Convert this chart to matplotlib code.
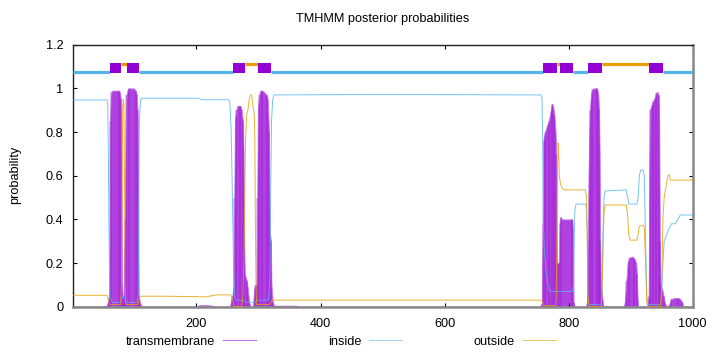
import matplotlib
matplotlib.use('Agg')
import matplotlib.pyplot as plt
from matplotlib.lines import Line2D

plt.rcParams['font.family'] = ['Liberation Sans', 'DejaVu Sans']
plt.rcParams['font.size'] = 9.2

title = "TMHMM posterior probabilities"
ylabel = "probability"
series_labels = ["transmembrane", "inside", "outside"]
xticks = [200, 400, 600, 800, 1000]
yticks = [0, 0.2, 0.4, 0.6, 0.8, 1, 1.2]
ytick_labels = ["0", "0.2", "0.4", "0.6", "0.8", "1", "1.2"]
seq_length = 1000

# transmembrane posterior (impulses)
tm_pos = [1, 50, 55, 57, 59, 60, 61, 62, 63, 65, 75, 77, 78, 79, 80, 81, 83, 84, 85, 86, 87, 89, 91, 99,
          102, 104, 105, 106, 107, 109, 112, 200, 205, 215, 225, 230, 254, 256, 258, 260, 261, 262, 264,
          266, 271, 273, 275, 276, 277, 278, 281, 283, 285, 287, 291, 293, 295, 297, 298, 299, 301, 303,
          306, 310, 313, 315, 317, 318, 320, 321, 323, 325, 360, 365, 754, 757, 758, 759, 762, 765, 768,
          771, 773, 775, 777, 779, 780, 781, 784, 785, 787, 790, 806, 807, 808, 810, 828, 830, 831, 832,
          834, 836, 838, 840, 846, 848, 849, 850, 851, 852, 854, 856, 889, 891, 893, 895, 898, 903, 906,
          909, 910, 911, 912, 927, 929, 930, 931, 933, 936, 939, 941, 943, 945, 946, 947, 948, 949, 951,
          953, 955, 958, 962, 965, 970, 977, 980, 983, 985, 1000]
tm_val = [0, 0, 0.005, 0.02, 0.04, 0.1, 0.85, 0.96, 0.985, 0.99, 0.99, 0.98, 0.95, 0.7, 0.1, 0.05, 0.05,
          0.28, 0.4, 0.85, 0.97, 0.995, 1.0, 1.0, 0.99, 0.97, 0.9, 0.5, 0.05, 0.02, 0.0, 0.0, 0.006, 0.008,
          0.005, 0.0, 0.0, 0.03, 0.05, 0.1, 0.5, 0.85, 0.9, 0.92, 0.92, 0.9, 0.85, 0.7, 0.3, 0.15, 0.12,
          0.08, 0.02, 0.0, 0.0, 0.08, 0.1, 0.1, 0.5, 0.9, 0.97, 0.99, 0.99, 0.98, 0.97, 0.95, 0.8, 0.35,
          0.3, 0.1, 0.02, 0.005, 0.005, 0.0, 0.0, 0.02, 0.38, 0.76, 0.8, 0.83, 0.85, 0.9, 0.93, 0.92, 0.88,
          0.8, 0.7, 0.2, 0.2, 0.38, 0.41, 0.4, 0.4, 0.35, 0.02, 0.0, 0.0, 0.03, 0.3, 0.6, 0.9, 0.97, 0.995,
          1.0, 1.0, 0.97, 0.9, 0.7, 0.3, 0.1, 0.05, 0.0, 0.0, 0.03, 0.12, 0.2, 0.225, 0.23, 0.22, 0.2, 0.15,
          0.05, 0.0, 0.0, 0.05, 0.6, 0.9, 0.92, 0.94, 0.96, 0.98, 0.985, 0.97, 0.85, 0.3, 0.12, 0.09, 0.08,
          0.05, 0.02, 0.0, 0.01, 0.035, 0.04, 0.04, 0.035, 0.02, 0.0, 0.0]

# inside posterior
inside_pos = [1, 56, 57, 58, 59, 60, 61, 64, 78, 80, 82, 84, 86, 104, 106, 107, 108, 110, 112, 204, 208,
              252, 254, 256, 258, 260, 262, 264, 276, 280, 296, 298, 316, 318, 319, 320, 321, 323, 325,
              500, 755, 757, 758, 759, 761, 764, 767, 770, 806, 808, 809, 810, 812, 828, 830, 831, 833,
              852, 854, 855, 857, 859, 893, 895, 897, 910, 912, 914, 916, 920, 922, 924, 926, 928, 948,
              950, 952, 954, 958, 962, 966, 972, 976, 980, 1000]
inside_val = [0.947, 0.947, 0.93, 0.7, 0.35, 0.1, 0.04, 0.02, 0.02, 0.04, 0.05, 0.04, 0.02, 0.02, 0.05,
              0.4, 0.85, 0.95, 0.955, 0.955, 0.948, 0.948, 0.93, 0.8, 0.5, 0.15, 0.04, 0.03, 0.03, 0.02,
              0.02, 0.03, 0.03, 0.1, 0.3, 0.6, 0.85, 0.95, 0.97, 0.972, 0.97, 0.96, 0.8, 0.4, 0.25, 0.15,
              0.1, 0.07, 0.07, 0.1, 0.3, 0.44, 0.47, 0.47, 0.35, 0.05, 0.01, 0.01, 0.05, 0.3, 0.5, 0.53,
              0.535, 0.5, 0.47, 0.47, 0.5, 0.6, 0.625, 0.625, 0.6, 0.3, 0.05, 0.01, 0.01, 0.05, 0.2, 0.3,
              0.33, 0.36, 0.38, 0.38, 0.4, 0.42, 0.42]

# outside posterior
outside_pos = [1, 56, 58, 60, 78, 79, 80, 81, 82, 83, 84, 85, 86, 106, 107, 109, 150, 200, 215, 225, 232,
               255, 258, 260, 262, 273, 275, 277, 279, 281, 283, 285, 287, 289, 291, 293, 294, 295, 296,
               297, 318, 320, 322, 755, 758, 760, 779, 780, 781, 782, 783, 784, 785, 787, 790, 795, 827,
               829, 830, 831, 833, 853, 855, 857, 859, 893, 895, 897, 899, 910, 912, 914, 920, 922, 924,
               926, 928, 948, 950, 952, 954, 957, 960, 962, 964, 1000]
outside_val = [0.052, 0.052, 0.03, 0.01, 0.01, 0.1, 0.5, 0.9, 0.95, 0.93, 0.6, 0.15, 0.01, 0.01, 0.03,
               0.048, 0.048, 0.046, 0.045, 0.05, 0.054, 0.054, 0.04, 0.01, 0.0, 0.0, 0.05, 0.3, 0.75, 0.88,
               0.9, 0.95, 0.97, 0.97, 0.92, 0.89, 0.8, 0.4, 0.1, 0.01, 0.01, 0.02, 0.03, 0.03, 0.02, 0.005,
               0.005, 0.05, 0.3, 0.6, 0.75, 0.7, 0.6, 0.56, 0.54, 0.535, 0.535, 0.5, 0.3, 0.05, 0.0, 0.0,
               0.2, 0.43, 0.466, 0.466, 0.42, 0.33, 0.305, 0.305, 0.33, 0.37, 0.374, 0.36, 0.2, 0.02, 0.0,
               0.0, 0.1, 0.4, 0.5, 0.55, 0.6, 0.606, 0.58, 0.58]

# predicted topology (start, end residues)
tm_segments = [(61, 78), (89, 107), (260, 278), (299, 320), (759, 780), (786, 807), (832, 853), (930, 951)]
inside_segments = [(1, 60), (108, 259), (321, 758), (808, 831), (952, 1000)]
outside_segments = [(79, 88), (279, 298), (781, 785), (854, 929)]

c_tm = '#9400d3'
c_in = '#56b4e9'
c_out = '#e69f00'

fig = plt.figure(figsize=(7.2, 3.52), dpi=100)
ax = fig.add_axes([73 / 720, 1 - 306.7 / 352, (692.7 - 73) / 720, (306.7 - 44.7) / 352])

ax.fill_between(tm_pos, tm_val, 0, color='#b042e0', lw=0.6, edgecolor='#c27de6', zorder=1)
ax.vlines(tm_pos[::2], 0, tm_val[::2], color=c_tm, lw=0.35, zorder=1.5)
ax.plot(inside_pos, inside_val, color=c_in, lw=0.7, alpha=0.8, zorder=3)
ax.plot(outside_pos, outside_val, color=c_out, lw=0.7, alpha=0.8, zorder=3)

for s, e in inside_segments:
    ax.hlines(1.073, s - 0.5, e + 0.5, color=c_in, lw=2.3, zorder=3)
for s, e in outside_segments:
    ax.hlines(1.112, s - 0.5, e + 0.5, color=c_out, lw=2.3, zorder=3)
ax.broken_barh([(s - 0.5, e - s + 1) for s, e in tm_segments], (1.069, 0.046),
               facecolor=c_tm, edgecolor='none', zorder=4)

ax.set_xlim(1, seq_length)
ax.set_ylim(0, 1.2)
ax.set_xticks(xticks)
ax.set_yticks(yticks)
ax.set_yticklabels(ytick_labels)
ax.tick_params(direction='in', length=3, width=0.8, top=True, right=True, labelsize=9.2, pad=7)
ax.tick_params(axis='x', pad=8)
for side in ['top', 'left']:
    ax.spines[side].set_color('#222222')
    ax.spines[side].set_linewidth(1.0)
for side in ['bottom', 'right']:
    ax.spines[side].set_color('#888888')
    ax.spines[side].set_linewidth(1.8)

ax.set_title(title, fontsize=9.2, pad=16)
fig.text(15 / 720, 1 - 175 / 352, ylabel, rotation=90, ha='center', va='center', fontsize=9.2)

handles = [Line2D([], [], color=c, lw=0.7, alpha=0.6) for c in (c_tm, c_in, c_out)]
fig.legend(handles, series_labels, ncol=3, loc='center', bbox_to_anchor=(341 / 720, 1 - 341.7 / 352),
           frameon=False, markerfirst=False, handlelength=2.6, handletextpad=0.6, columnspacing=5.6,
           fontsize=9.2, borderpad=0, borderaxespad=0)

fig.savefig('out.png', dpi=100)
